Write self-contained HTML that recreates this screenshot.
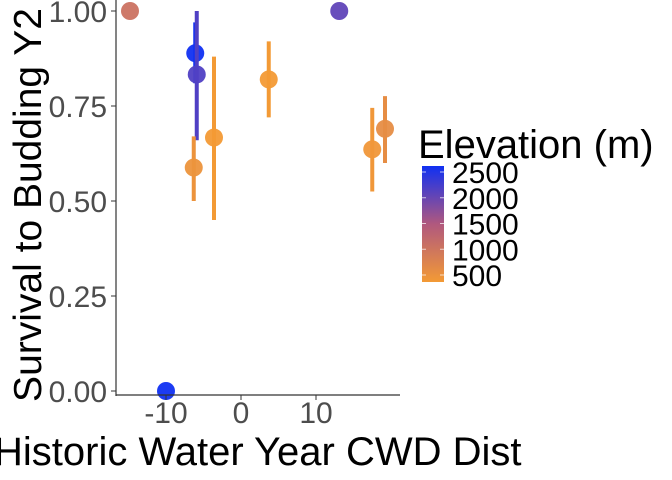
<!DOCTYPE html>
<html><head><meta charset="utf-8"><style>
body{margin:0;background:#fff;}
svg{display:block;font-family:"Liberation Sans",sans-serif;}
</style></head><body>
<svg id="chart" width="672" height="480">
<defs><linearGradient id="grad" x1="0" y1="1" x2="0" y2="0">
<stop offset="0" stop-color="#F39A35"/><stop offset="0.5" stop-color="#B0587E"/><stop offset="1" stop-color="#1030F2"/>
</linearGradient></defs>
<g id="marks"></g>
<line x1="116" y1="0" x2="116" y2="396" stroke="#333" stroke-width="1.2"/>
<line x1="116" y1="395" x2="400" y2="395" stroke="#333" stroke-width="1.2"/>
<g id="yticks"></g>
<g id="xticks"></g>
<text x="0" y="0" transform="translate(41,205) rotate(-90)" text-anchor="middle" font-size="39" fill="#000">Survival to Budding Y2</text>
<text x="-6" y="465" font-size="40" fill="#000">Historic Water Year CWD Dist</text>
<g>
<text x="418" y="158" font-size="40" fill="#000">Elevation (m)</text>
<rect x="422" y="166" width="22" height="116" fill="url(#grad)"/>
<g id="legticks"></g>
</g>
</svg>
<script>
const xs=[-14.8,-6.1,-5.9,-6.3,-3.6,3.7,13.1,17.5,19.2,-10];
const ys=[1.0,0.889,0.833,0.588,0.667,0.82,1.0,0.636,0.69,0.0];
const lo=[null,0.81,0.66,0.50,0.45,0.72,null,0.525,0.60,null];
const hi=[null,0.97,1.0,0.67,0.88,0.92,null,0.745,0.776,null];
const elev=[1100,2500,2100,600,500,500,2000,550,700,2500];
const yTicks=[0,0.25,0.5,0.75,1.0];
const yLabels=["0.00","0.25","0.50","0.75","1.00"];
const xTicks=[-10,0,10];
const xLabels=["-10","0","10"];
const legVals=[500,1000,1500,2000,2500];
const sx=v=>241+v*7.5;
const sy=v=>391-v*380;
const ly=v=>275-(v-500)/2000*103;
function mix(a,b,t){const p=s=>[1,3,5].map(i=>parseInt(s.substr(i,2),16));const A=p(a),B=p(b);return 'rgb('+A.map((x,i)=>Math.round(x+(B[i]-x)*t)).join(',')+')';}
function col(e){const t=Math.max(0,Math.min(1,(e-500)/2000));return t<0.5?mix('#F39A35','#B0587E',t*2):mix('#B0587E','#1030F2',(t-0.5)*2);}
const NS='http://www.w3.org/2000/svg';
function mk(tag,attrs,parent){const el=document.createElementNS(NS,tag);for(const k in attrs)el.setAttribute(k,attrs[k]);parent.appendChild(el);return el;}
const g=document.getElementById('marks');
for(let i=0;i<xs.length;i++){
 const c=col(elev[i]);
 if(lo[i]!==null){
  const l=mk('line',{x1:sx(xs[i]),x2:sx(xs[i]),y1:sy(hi[i]),y2:sy(lo[i]),stroke:c,'stroke-width':4},g);
  
  
 }
 const p=mk('circle',{cx:sx(xs[i]),cy:sy(ys[i]),r:9,fill:c,'fill-opacity':0.95},g);
 
 
}
const yt=document.getElementById('yticks');
yTicks.forEach((v,i)=>{
 mk('line',{x1:111,x2:116,y1:sy(v),y2:sy(v),stroke:'#333'},yt);
 const t=mk('text',{x:107,y:sy(v)+11,'text-anchor':'end','font-size':30,fill:'#4d4d4d'},yt);
 t.textContent=yLabels[i];
 
 
});
const xt=document.getElementById('xticks');
xTicks.forEach((v,i)=>{
 mk('line',{x1:sx(v),x2:sx(v),y1:395,y2:400,stroke:'#333'},xt);
 const t=mk('text',{x:sx(v),y:423,'text-anchor':'middle','font-size':30,fill:'#4d4d4d'},xt);
 t.textContent=xLabels[i];
 
 
});
const lt=document.getElementById('legticks');
legVals.forEach(v=>{
 mk('line',{x1:422,x2:426,y1:ly(v),y2:ly(v),stroke:'#fff','stroke-opacity':0.7},lt);
 mk('line',{x1:440,x2:444,y1:ly(v),y2:ly(v),stroke:'#fff','stroke-opacity':0.7},lt);
 const t=mk('text',{x:452,y:ly(v)+11,'font-size':30,fill:'#000'},lt);
 t.textContent=String(v);
 
 
});
</script>
</body></html>
